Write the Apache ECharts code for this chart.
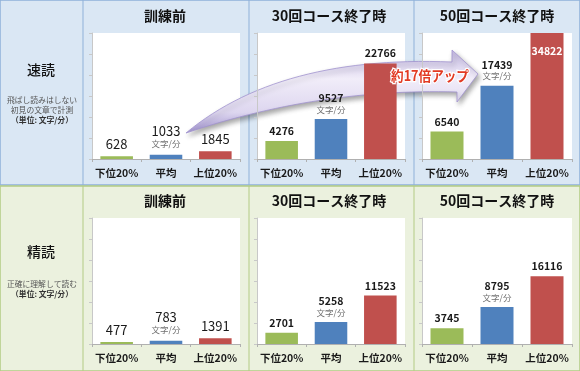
<!DOCTYPE html>
<html>
<head>
<meta charset="utf-8">
<script src="https://cdn.jsdelivr.net/npm/echarts@6/dist/echarts.min.js"></script>
<style>
html,body{margin:0;padding:0;background:#fff;}
#chart{width:580px;height:371px;}
</style>
</head>
<body>
<div id="chart"></div>
<script>
// ---- data ----
const categories = ['下位20%', '平均', '上位20%'];
const panelTitles = ['訓練前', '30回コース終了時', '50回コース終了時'];
const rowTitles = ['速読', '精読'];
const rowNotes = [
  ['飛ばし読みはしない', '初見の文章で計測', '（単位: 文字/分）'],
  ['正確に理解して読む', '（単位: 文字/分）']
];
const unitText = '文字/分';
const sokudokuBefore = [628, 1033, 1845];
const sokudoku30 = [4276, 9527, 22766];
const sokudoku50 = [6540, 17439, 34822];
const seidokuBefore = [477, 783, 1391];
const seidoku30 = [2701, 5258, 11523];
const seidoku50 = [3745, 8795, 16116];
const arrowText = '約17倍アップ';
const yMin = 0, yMax = 30000, yInterval = 5000;

const seriesData = [sokudokuBefore, sokudoku30, sokudoku50, seidokuBefore, seidoku30, seidoku50];
const barColors = ['#9bbb59', '#4f81bd', '#c0504d'];
const FONT = '"Noto Sans CJK JP", "Noto Sans", sans-serif';

// ---- layout ----
const gridLefts = [92, 257, 422];
const gridWidths = [148, 148, 150];
const gridTops = [33, 218];
const gridH = 126;

const grids = [], xAxes = [], yAxes = [], series = [];
for (let i = 0; i < 6; i++) {
  const col = i % 3, row = Math.floor(i / 3);
  const big = col === 0;
  grids.push({left: gridLefts[col], top: gridTops[row], width: gridWidths[col], height: gridH,
    show: true, backgroundColor: '#ffffff', borderWidth: 0, z: 1});
  xAxes.push({type: 'category', gridIndex: i, data: categories, z: 4,
    axisLine: {lineStyle: {color: '#b0b0b0'}},
    axisTick: {show: true, length: 3, lineStyle: {color: '#b0b0b0'}},
    axisLabel: {interval: 0, color: '#1a1a1a', fontSize: 10.5, fontWeight: 'bold', fontFamily: FONT, margin: 9}});
  yAxes.push({type: 'value', gridIndex: i, min: yMin, max: yMax, interval: yInterval, z: 4,
    axisLine: {show: true, lineStyle: {color: '#c8c8c8'}},
    axisTick: {show: true, length: 3, lineStyle: {color: '#c8c8c8'}},
    axisLabel: {show: false}, splitLine: {show: false}});
  series.push({type: 'bar', xAxisIndex: i, yAxisIndex: i, z: 3, barWidth: '66%',
    data: seriesData[i].map((v, k) => {
      const over = v > yMax;
      return {value: v, itemStyle: {color: barColors[k]},
        label: over ? {position: ['50%', 12], align: 'center', verticalAlign: 'top', color: '#ffffff',
          rich: {v: {color: '#ffffff', fontSize: 10.5, fontWeight: 'bold', fontFamily: FONT}}} : {}};
    }),
    label: {show: true, position: 'top', distance: big ? 5 : 4, fontFamily: FONT,
      color: '#1a1a1a',
      formatter: p => p.dataIndex === 1 ? '{v|' + p.value + '}\n{u|' + unitText + '}' : '{v|' + p.value + '}',
      rich: {
        v: {fontSize: big ? 13 : 10.5, fontWeight: big ? 'normal' : 'bold', lineHeight: big ? 14 : 12, fontFamily: FONT},
        u: {fontSize: 8.5, color: '#707070', lineHeight: big ? 12 : 11, fontFamily: FONT}
      }}
  });
}

// ---- decoration ----
const graphic = [
  {type: 'rect', shape: {x: 0, y: 0, width: 580, height: 185}, style: {fill: '#dae7f4', stroke: '#8fb1d9', lineWidth: 1.5}, z: 0},
  {type: 'rect', shape: {x: 0, y: 186, width: 580, height: 185}, style: {fill: '#ebf1de', stroke: '#b3cb84', lineWidth: 1.5}, z: 0},
];
[83, 249, 414].forEach(x => {
  graphic.push({type: 'line', shape: {x1: x, y1: 0, x2: x, y2: 185}, style: {stroke: '#8fb1d9', lineWidth: 1}, z: 0});
  graphic.push({type: 'line', shape: {x1: x, y1: 186, x2: x, y2: 371}, style: {stroke: '#b3cb84', lineWidth: 1}, z: 0});
});
const titleCx = [165, 329, 497];
[0, 1].forEach(row => {
  const ty = row === 0 ? 16 : 201;
  panelTitles.forEach((t, c) => {
    graphic.push({type: 'text', x: titleCx[c], y: ty, z: 5,
      style: {text: t, fill: '#111', font: 'bold 14px ' + FONT, textAlign: 'center', textVerticalAlign: 'middle'}});
  });
});
const rowTitleY = [70, 252];
const noteY = [[100, 110, 120], [284, 294]];
[0, 1].forEach(row => {
  graphic.push({type: 'text', x: 41, y: rowTitleY[row], z: 5,
    style: {text: rowTitles[row], fill: '#111', font: '500 14px ' + FONT, textAlign: 'center', textVerticalAlign: 'middle'}});
  rowNotes[row].forEach((n, k) => {
    const last = k === rowNotes[row].length - 1;
    graphic.push({type: 'text', x: 42, y: noteY[row][k], z: 5,
      style: {text: n, fill: last ? '#333' : '#555', font: (last ? 'bold ' : '') + '7.8px ' + FONT, textAlign: 'center', textVerticalAlign: 'middle'}});
  });
});
// curved arrow outline (decorative shape)
function quad(p0, c, p1, n) {
  const pts = [];
  for (let j = 0; j <= n; j++) {
    const t = j / n, u = 1 - t;
    pts.push([u * u * p0[0] + 2 * u * t * c[0] + t * t * p1[0], u * u * p0[1] + 2 * u * t * c[1] + t * t * p1[1]]);
  }
  return pts;
}
const arrowPts = [].concat(
  quad([186, 133], [280, 55], [452, 62], 30),
  [[452, 50], [478, 74], [457, 102]],
  quad([457, 92], [320, 88], [186, 133], 30)
);
graphic.push({type: 'polygon', z: 2,
  shape: {points: arrowPts},
  style: {
    fill: {type: 'linear', x: 0, y: 0, x2: 0, y2: 1, global: false,
      colorStops: [{offset: 0, color: '#c4b9e2'}, {offset: 0.35, color: '#f1edf9'}, {offset: 0.75, color: '#ddd6ef'}, {offset: 1, color: '#a193cf'}]},
    stroke: '#a193cf', lineWidth: 0.8,
    shadowColor: 'rgba(0,0,0,0.35)', shadowBlur: 5, shadowOffsetX: 2, shadowOffsetY: 3
  }});
graphic.push({type: 'text', x: 430, y: 76, z: 10, scaleX: 0.9,
  style: {text: arrowText, fill: '#e23a23', font: 'bold 14px ' + FONT, textAlign: 'center', textVerticalAlign: 'middle',
    stroke: '#ffffff', lineWidth: 2.5}});

const chart = echarts.init(document.getElementById('chart'), null, {renderer: 'canvas'});
chart.setOption({
  animation: false,
  backgroundColor: '#ffffff',
  grid: grids, xAxis: xAxes, yAxis: yAxes, series: series,
  graphic: graphic
});
</script>
</body>
</html>
